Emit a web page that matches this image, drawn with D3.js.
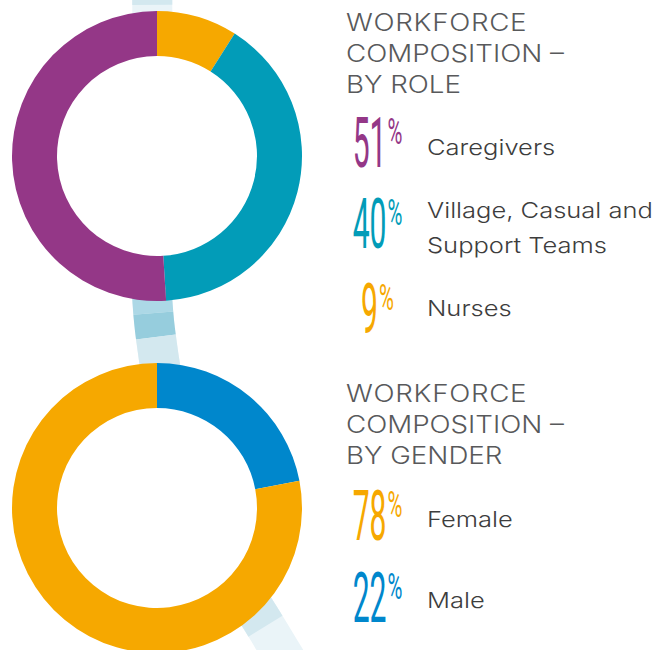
<!DOCTYPE html>
<html>
<head>
<meta charset="utf-8">
<script src="https://cdn.jsdelivr.net/npm/d3@7"></script>
<style>
  body { margin: 0; background: #fff; }
  svg { display: block; }
</style>
</head>
<body>
<div id="chart"></div>
<script>
// role data, legend order
const roleLabels = ["Caregivers", "Village, Casual and|Support Teams", "Nurses"];
const roleValues = [51, 40, 9];
const roleColors = ["#943787", "#029cb8", "#f6a800"];

// gender data, legend order
const genderLabels = ["Female", "Male"];
const genderValues = [78, 22];
const genderColors = ["#f6a800", "#0087cc"];

const titles = [
    ["WORKFORCE", "COMPOSITION \u2013", "BY ROLE"],
    ["WORKFORCE", "COMPOSITION \u2013", "BY GENDER"]
];

const width = 654, height = 650;
const outerR = 145, innerR = 100;
const textFont = "Inter, 'Noto Sans', sans-serif";

const svg = d3.select("#chart").append("svg")
    .attr("width", width)
    .attr("height", height)
    .attr("viewBox", "0 0 " + width + " " + height);

// decorative band behind the donuts
const bandPts = [[152, -40], [153, 120], [155, 330], [195, 500], [272, 637], [305, 690]];
const band = svg.append("g").attr("class", "band");
const bandPath = band.append("path")
    .attr("d", d3.line().curve(d3.curveCatmullRom)(bandPts))
    .attr("fill", "none")
    .attr("stroke", "#eaf4f8")
    .attr("stroke-width", 40);

// shaded pieces of the band, given as y ranges along the path
const total = bandPath.node().getTotalLength();
function lenAtY(y) {
    let lo = 0, hi = total;
    for (let i = 0; i < 40; i++) {
        const mid = (lo + hi) / 2;
        if (bandPath.node().getPointAtLength(mid).y < y) lo = mid; else hi = mid;
    }
    return lo;
}
const shades = [
    [-40, 5, "#d3e8ef"],
    [290, 313, "#acd8e6"],
    [313, 337, "#96cddd"],
    [337, 380, "#d3e8ef"],
    [560, 626, "#d3e8ef"]
];
shades.forEach(function (s) {
    const a = lenAtY(s[0]), b = lenAtY(s[1]);
    band.append("path")
        .attr("d", bandPath.attr("d"))
        .attr("fill", "none")
        .attr("stroke", s[2])
        .attr("stroke-width", 40)
        .attr("stroke-dasharray", "0 " + a + " " + (b - a) + " " + total);
});

const pie = d3.pie().sort(null).value(d => d);
const arc = d3.arc().innerRadius(innerR).outerRadius(outerR);

function donut(cx, cy, values, colors) {
    // legend order is reversed round the ring, clockwise from the top
    const vals = values.slice().reverse();
    const cols = colors.slice().reverse();
    const g = svg.append("g")
        .attr("transform", "translate(" + cx + "," + cy + ")");
    g.append("circle").attr("r", innerR + 1).attr("fill", "#fff");
    g.selectAll("path")
        .data(pie(vals))
        .join("path")
        .attr("d", arc)
        .attr("fill", (d, i) => cols[i]);
}

donut(157, 156, roleValues, roleColors);
donut(157, 508, genderValues, genderColors);

function titleBlock(lines, y0) {
    svg.append("g")
        .attr("transform", "translate(346," + y0 + ") scale(1.18,1)")
        .selectAll("text")
        .data(lines)
        .join("text")
        .attr("x", 0)
        .attr("y", (d, i) => i * 31)
        .attr("font-family", textFont)
        .attr("font-weight", 300)
        .attr("font-size", 23.5)
        .attr("letter-spacing", (d, i) => i === 0 ? 0.6 : 0)
        .attr("fill", "#58595b")
        .text(d => d);
}
titleBlock(titles[0], 31);
titleBlock(titles[1], 402);

function legend(labels, values, colors, numYs, labYs) {
    const g = svg.append("g");
    labels.forEach(function (lab, i) {
        const num = g.append("text")
            .attr("font-family", "Roboto, sans-serif")
            .attr("font-weight", 400)
            .attr("font-size", 70)
            .attr("fill", colors[i])
            .text(values[i]);
        const pct = g.append("text")
            .attr("font-family", "Roboto, sans-serif")
            .attr("font-weight", 400)
            .attr("font-size", 37)
            .attr("fill", colors[i])
            .text("%");
        const sn = 0.43, sp = 0.55;
        const wn = num.node().getComputedTextLength() * sn;
        const wp = pct.node().getComputedTextLength() * sp;
        const x0 = 377 - (wn + wp) / 2;
        num.attr("transform", "translate(" + x0 + "," + numYs[i] + ") scale(" + sn + ",1)");
        pct.attr("transform", "translate(" + (x0 + wn + 1) + "," + (numYs[i] - 23) + ") scale(" + sp + ",1)");

        const parts = lab.split("|");
        g.append("text")
            .attr("transform", "translate(427," + labYs[i] + ") scale(1.16,1)")
            .attr("font-family", textFont)
            .attr("font-weight", 300)
            .attr("font-size", 22)
            .attr("fill", "#3d3d3d")
            .selectAll("tspan")
            .data(parts)
            .join("tspan")
            .attr("x", 0)
            .attr("dy", (d, j) => j === 0 ? 0 : 35)
            .text(d => d);
    });
}
legend(roleLabels, roleValues, roleColors, [167, 248, 333], [155, 218, 316]);
legend(genderLabels, genderValues, genderColors, [540, 622], [527, 608]);
</script>
</body>
</html>
